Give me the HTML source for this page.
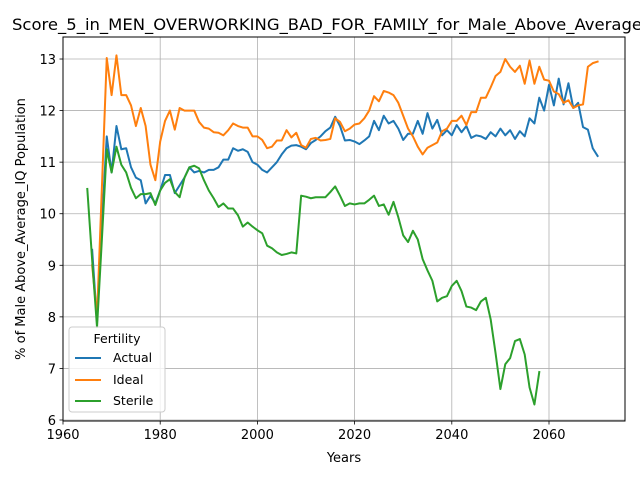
<!DOCTYPE html>
<html><head><meta charset="utf-8"><style>
html,body{margin:0;padding:0;background:#fff;}
svg{display:block;font-family:"DejaVu Sans","Liberation Sans",sans-serif;}
</style></head><body>
<svg id="chart" width="640" height="480" viewBox="0 0 640 480">
<g id="grid"></g>
<g id="series"></g>
<rect x="63" y="37" width="562" height="384" fill="none" stroke="#000" stroke-width="1"/>
<g id="ticks"></g>
<text x="12" y="30" text-anchor="start" font-size="16" textLength="630" lengthAdjust="spacingAndGlyphs">Score_5_in_MEN_OVERWORKING_BAD_FOR_FAMILY_for_Male_Above_Average</text>
<text x="344" y="462" text-anchor="middle" font-size="13">Years</text>
<text x="25" y="229" text-anchor="middle" font-size="13" transform="rotate(-90 25 229)">% of Male Above_Average_IQ Population</text>
<g>
<rect x="69" y="327" width="96" height="85" rx="3" fill="#fff" fill-opacity="0.8" stroke="#ccc"/>
<text x="117" y="343" text-anchor="middle" font-size="12.5">Fertility</text>
<line x1="75" y1="358" x2="101" y2="358" stroke="#1f77b4" stroke-width="2"/>
<text x="113" y="362" font-size="12.5">Actual</text>
<line x1="75" y1="380" x2="101" y2="380" stroke="#ff7f0e" stroke-width="2"/>
<text x="113" y="384" font-size="12.5">Ideal</text>
<line x1="75" y1="401" x2="101" y2="401" stroke="#2ca02c" stroke-width="2"/>
<text x="113" y="405" font-size="12.5">Sterile</text>
</g>
</svg>
<script>
const actualStart = 1966;
const actualValues = [9.3,7.9,9.8,11.5,10.8,11.7,11.25,11.27,10.9,10.7,10.65,10.2,10.35,10.2,10.45,10.75,10.75,10.4,10.55,10.7,10.9,10.8,10.83,10.8,10.85,10.85,10.9,11.05,11.05,11.27,11.22,11.25,11.2,11.0,10.95,10.85,10.8,10.9,11.0,11.15,11.27,11.32,11.33,11.3,11.25,11.37,11.43,11.5,11.6,11.67,11.88,11.7,11.42,11.43,11.4,11.35,11.42,11.5,11.8,11.62,11.9,11.75,11.8,11.65,11.43,11.55,11.55,11.8,11.55,11.95,11.65,11.82,11.52,11.62,11.52,11.72,11.58,11.7,11.47,11.52,11.5,11.45,11.58,11.5,11.65,11.52,11.62,11.45,11.6,11.5,11.85,11.75,12.25,12.0,12.5,12.1,12.62,12.12,12.53,12.05,12.15,11.68,11.63,11.27,11.12];
const idealStart = 1966;
const idealValues = [9.0,8.0,10.5,13.02,12.3,13.07,12.3,12.3,12.1,11.7,12.05,11.7,10.95,10.65,11.4,11.8,12.0,11.63,12.05,12.0,12.0,12.0,11.78,11.67,11.65,11.58,11.57,11.52,11.62,11.75,11.7,11.67,11.67,11.5,11.5,11.43,11.27,11.3,11.42,11.42,11.62,11.48,11.57,11.33,11.28,11.45,11.47,11.42,11.43,11.45,11.85,11.78,11.6,11.65,11.73,11.75,11.85,12.0,12.28,12.18,12.38,12.35,12.3,12.15,11.9,11.65,11.5,11.3,11.15,11.28,11.33,11.38,11.6,11.65,11.8,11.8,11.9,11.72,11.97,11.97,12.25,12.25,12.45,12.67,12.75,13.0,12.85,12.75,12.87,12.52,12.97,12.52,12.85,12.6,12.58,12.37,12.32,12.15,12.2,12.05,12.1,12.12,12.85,12.92,12.95];
const sterileStart = 1965;
const sterileValues = [10.48,9.1,7.8,9.5,11.25,10.8,11.3,10.95,10.8,10.5,10.3,10.38,10.38,10.4,10.17,10.45,10.6,10.67,10.42,10.32,10.7,10.9,10.93,10.88,10.65,10.45,10.3,10.13,10.2,10.1,10.1,9.97,9.75,9.83,9.75,9.68,9.62,9.38,9.33,9.25,9.2,9.22,9.25,9.23,10.35,10.33,10.3,10.32,10.32,10.32,10.42,10.53,10.35,10.15,10.2,10.18,10.2,10.2,10.27,10.35,10.15,10.18,9.98,10.23,9.93,9.58,9.45,9.67,9.5,9.12,8.9,8.7,8.3,8.37,8.4,8.6,8.7,8.5,8.2,8.18,8.13,8.3,8.37,7.95,7.3,6.6,7.08,7.2,7.53,7.57,7.27,6.63,6.3,6.93];
const xTicks = [1960,1980,2000,2020,2040,2060];
const yTicks = [6,7,8,9,10,11,12,13];

const NS = "http://www.w3.org/2000/svg";
function xScale(yr){ return 63 + (yr - 1960) * 4.86; }
function yScale(v){ return 420 - (v - 6) * 51.57; }
function mk(tag, attrs, parent){
  const e = document.createElementNS(NS, tag);
  for (const k in attrs) e.setAttribute(k, attrs[k]);
  parent.appendChild(e);
  return e;
}
const grid = document.getElementById('grid');
const ticks = document.getElementById('ticks');
xTicks.forEach(t => {
  const x = xScale(t);
  const g = mk('line', {x1:x, y1:37, x2:x, y2:421, stroke:'#b0b0b0', 'stroke-width':0.8}, grid);
  
  
  const tk = mk('line', {x1:x, y1:421, x2:x, y2:424.5, stroke:'#000', 'stroke-width':0.8}, ticks);
  
  
  const lb = mk('text', {x:x, y:439, 'text-anchor':'middle', 'font-size':13}, ticks);
  lb.textContent = t;
  
  
});
yTicks.forEach(t => {
  const y = yScale(t);
  const g = mk('line', {x1:63, y1:y, x2:625, y2:y, stroke:'#b0b0b0', 'stroke-width':0.8}, grid);
  
  
  const tk = mk('line', {x1:59.5, y1:y, x2:63, y2:y, stroke:'#000', 'stroke-width':0.8}, ticks);
  
  
  const lb = mk('text', {x:56, y:y+5, 'text-anchor':'end', 'font-size':13}, ticks);
  lb.textContent = t;
  
  
});
const series = document.getElementById('series');
function drawLine(start, vals, color, name){
  const pts = vals.map((v,i) => xScale(start + i).toFixed(2) + ',' + yScale(v).toFixed(2)).join(' ');
  const p = mk('polyline', {points:pts, fill:'none', stroke:color, 'stroke-width':2, 'stroke-linejoin':'round', 'stroke-linecap':'square'}, series);
  
  
}
drawLine(actualStart, actualValues, '#1f77b4', 'actual-line');
drawLine(idealStart, idealValues, '#ff7f0e', 'ideal-line');
drawLine(sterileStart, sterileValues, '#2ca02c', 'sterile-line');
</script>
</body></html>
